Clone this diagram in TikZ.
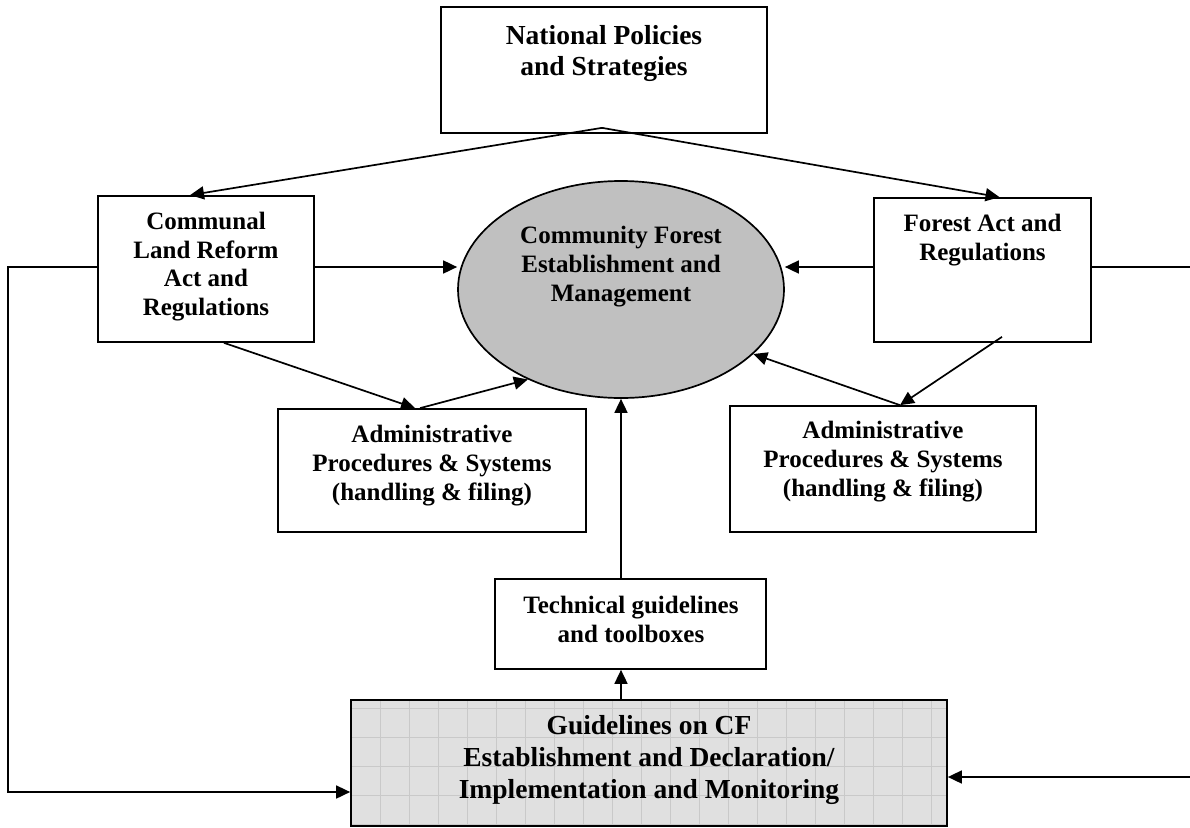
\documentclass[tikz,border=0pt]{standalone}
\usepackage{fontspec}
\setmainfont{Liberation Serif}
\usetikzlibrary{arrows.meta,shapes.geometric,calc}
\definecolor{ellfill}{HTML}{C0C0C0}
\definecolor{gridfill}{HTML}{E0E0E0}
\definecolor{gridline}{HTML}{C9C9C9}
\begin{document}
\begin{tikzpicture}[x=1pt,y=-1pt,
  box/.style={draw, line width=1.7pt, inner sep=0pt, fill=white},
  lbl/.style={font=\bfseries\fontsize{25}{29}\selectfont, align=center, inner sep=0pt, anchor=base},
  toplbl/.style={font=\bfseries\fontsize{27.5}{31}\selectfont, align=center, inner sep=0pt, anchor=base},
  biglbl/.style={font=\bfseries\fontsize{27.5}{32}\selectfont, align=center, inner sep=0pt, anchor=base},
  conn/.style={line width=1.7pt, -{Triangle[length=14pt,width=13pt]}},
  plain/.style={line width=1.7pt},
  gridc/.style={draw=gridline, line width=0.8pt}]
\useasboundingbox (0,0) rectangle (1190,827);

% boxes
\node[box, minimum width=326pt, minimum height=126pt] (np) at (604,70) {};
\node[box, minimum width=216pt, minimum height=146pt] (cl) at (206,269) {};
\node[draw, line width=1.7pt, ellipse, fill=ellfill, inner sep=0pt, minimum width=326pt, minimum height=217pt] (cf) at (621,289.5) {};
\node[box, minimum width=217pt, minimum height=144pt] (fa) at (982.5,270) {};
\node[box, minimum width=308pt, minimum height=123pt] (al) at (432,470.5) {};
\node[box, minimum width=306pt, minimum height=126pt] (ar) at (883,469) {};
\node[box, minimum width=271pt, minimum height=90pt] (tb) at (630.5,624) {};
\fill[gridfill] (351,700) rectangle (947,826);
\begin{scope}
  \clip (351,700) rectangle (947,826);
  \foreach \gx in {380,409,...,947} \draw[gridc] (\gx,700) -- (\gx,826);
  \foreach \gy in {708,737,...,826} \draw[gridc] (351,\gy) -- (947,\gy);
\end{scope}
\node[draw, line width=1.7pt, inner sep=0pt, minimum width=596pt, minimum height=126pt] (gl) at (649,763) {};

% texts (anchored at the baseline of the last line)
\node[toplbl] (npt) at (604,75) {National Policies\\and Strategies};
\node[lbl, font=\bfseries\fontsize{25}{28.5}\selectfont] (clt) at (206,315) {Communal\\Land Reform\\Act and\\Regulations};
\node[lbl] (cft) at (621,301) {Community Forest\\Establishment and\\Management};
\node[lbl] (fat) at (982.5,260) {Forest Act and\\Regulations};
\node[lbl] (alt) at (432,500) {Administrative\\Procedures \& Systems\\(handling \& filing)};
\node[lbl] (art) at (883,496) {Administrative\\Procedures \& Systems\\(handling \& filing)};
\node[lbl] (tbt) at (631,642) {Technical guidelines\\and toolboxes};
\node[biglbl] (glt) at (649,798) {Guidelines on CF\\Establishment and Declaration/\\Implementation and Monitoring};

% coordinates
\coordinate (apex) at ($(np.south)+(-2,-6)$);
\coordinate (cle) at ($(cl.east)+(0,-2)$);
\coordinate (faw) at ($(fa.west)+(0,-3)$);
\coordinate (ledge) at (8,267);
\coordinate (redge1) at (1190,267);
\coordinate (redge2) at (1190,777);
\coordinate (glin) at ($(gl.west)+(0,29)$);
\coordinate (arn) at ($(ar.north)+(17,0)$);

% connectors
\draw[conn] (apex) -- ($(cl.north)+(-16,0)$);
\draw[conn] (apex) -- ($(fa.north)+(17,0)$);
\draw[conn] (cle) -- (cle -| cf.west);
\draw[conn] (faw) -- (faw -| cf.east);
\draw[plain] (redge1 -| fa.east) -- (redge1);
\draw[conn] (ledge -| cl.west) -- (ledge) |- (glin);
\draw[conn] (redge2) -- (redge2 -| gl.east);
\draw[conn] ($(cl.south)+(18,0)$) -- ($(al.north)+(-17,0)$);
\draw[conn] ($(al.north)+(-12,0)$) -- (cf.224);
\draw[conn] ($(fa.south)+(19.5,-6)$) -- (arn);
\draw[conn] (arn) -- (cf.334);
\draw[conn] (tb.north -| cf.south) -- (cf.south);
\draw[conn] (gl.north -| cf.south) -- (tb.south -| cf.south);
\end{tikzpicture}
\end{document}
